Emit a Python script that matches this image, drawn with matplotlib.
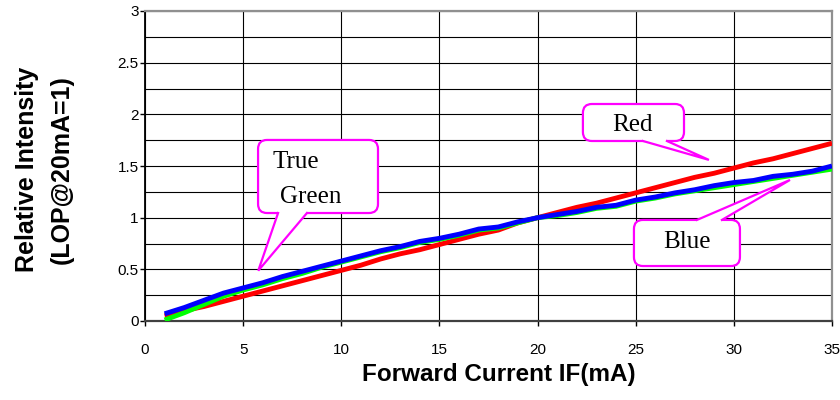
import numpy as np
import matplotlib
matplotlib.use("Agg")
import matplotlib.pyplot as plt
from matplotlib.patches import FancyBboxPatch, Polygon
from matplotlib.lines import Line2D

# forward current (mA) and relative intensity of each chip colour
current = [1, 2, 3, 4, 5, 6, 7, 8, 9, 10, 11, 12, 13, 14, 15, 16, 17, 18,
           19, 20, 21, 22, 23, 24, 25, 26, 27, 28, 29, 30, 31, 32, 33, 34, 35]
red = [0.05, 0.10, 0.14, 0.19, 0.24, 0.29, 0.34, 0.39, 0.44, 0.49, 0.54, 0.60,
       0.65, 0.69, 0.74, 0.79, 0.84, 0.88, 0.95, 1.00, 1.05, 1.10, 1.14, 1.19,
       1.24, 1.29, 1.34, 1.39, 1.43, 1.48, 1.53, 1.57, 1.62, 1.67, 1.72]
green = [0.01, 0.08, 0.16, 0.24, 0.30, 0.35, 0.41, 0.46, 0.52, 0.57, 0.62, 0.67,
         0.71, 0.76, 0.79, 0.83, 0.88, 0.90, 0.95, 1.00, 1.02, 1.05, 1.09, 1.11,
         1.16, 1.19, 1.23, 1.26, 1.29, 1.32, 1.35, 1.38, 1.41, 1.44, 1.47]
blue = [0.07, 0.13, 0.20, 0.27, 0.32, 0.37, 0.43, 0.48, 0.53, 0.58, 0.63, 0.68,
        0.72, 0.77, 0.80, 0.84, 0.89, 0.91, 0.96, 1.00, 1.03, 1.06, 1.10, 1.12,
        1.17, 1.20, 1.24, 1.27, 1.31, 1.34, 1.36, 1.40, 1.42, 1.45, 1.50]

xticks = [0, 5, 10, 15, 20, 25, 30, 35]
yticks = [0, 0.5, 1, 1.5, 2, 2.5, 3]

fig = plt.figure(figsize=(8.4, 4), dpi=100)
ax = fig.add_axes([145/840, 79/400, 687/840, 310/400])

ax.plot(current, red, color='#ff0000', lw=3.5, solid_capstyle='butt', zorder=3)
ax.plot(current, green, color='#00ff00', lw=3.5, solid_capstyle='butt', zorder=3)
ax.plot(current, blue, color='#0000ff', lw=3.5, solid_capstyle='butt', zorder=4)

ax.set_xlim(0, 35)
ax.set_ylim(0, 3)
ax.set_xticks(xticks)
ax.set_xticklabels([str(v) for v in xticks])
ax.set_yticks(yticks)
ax.set_yticklabels(['%g' % v for v in yticks])
ax.set_yticks(np.arange(0, 3.01, 0.25), minor=True)
ax.grid(True, which='major', color='black', lw=0.8)
ax.grid(True, which='minor', axis='y', color='black', lw=0.8)
ax.tick_params(axis='y', which='minor', length=0)
ax.tick_params(axis='both', which='major', direction='out', length=3.6,
               width=1, labelsize=11, color='black')
ax.tick_params(axis='x', pad=12)
ax.tick_params(axis='y', pad=1)
for lab in ax.get_xticklabels() + ax.get_yticklabels():
    lab.set_fontfamily('Liberation Sans')

ax.spines['left'].set_color('black')
ax.spines['left'].set_linewidth(1.3)
ax.spines['bottom'].set_color('#404040')
ax.spines['bottom'].set_linewidth(1.6)
for s in ['top', 'right']:
    ax.spines[s].set_color('#909090')
    ax.spines[s].set_linewidth(1.6)

ax.set_xlabel('Forward Current IF(mA)', fontsize=17.5, fontweight='bold',
              fontfamily='Liberation Sans')
ax.xaxis.set_label_coords(0.515, -0.135)
ax.set_ylabel('Relative Intensity\n(LOP@20mA=1)', fontsize=18, fontweight='bold',
              fontfamily='Liberation Sans', linespacing=1.6)
ax.yaxis.set_label_coords(-0.103, 0.49)

# callout boxes
sx = ax.transData.transform((1, 0))[0] - ax.transData.transform((0, 0))[0]
sy = ax.transData.transform((0, 1))[1] - ax.transData.transform((0, 0))[1]
mag = '#ff00ff'


def callout(x0, y0, x1, y1, b1, b2, edge_y, tip, inward):
    r = 9 / sx
    box = FancyBboxPatch((x0, y0), x1 - x0, y1 - y0,
                         boxstyle='round,pad=0,rounding_size=%f' % r,
                         mutation_aspect=sx / sy, fc='white', ec=mag, lw=1.6,
                         zorder=6, clip_on=False)
    ax.add_patch(box)
    yi = edge_y + inward
    fill = Polygon([(b1, yi), (b1, edge_y), tip, (b2, edge_y), (b2, yi)],
                   closed=True, fc='white', ec='none', zorder=7, clip_on=False)
    ax.add_patch(fill)
    ax.add_line(Line2D([b1, tip[0], b2], [edge_y, tip[1], edge_y], color=mag,
                       lw=1.6, zorder=8, solid_joinstyle='miter'))


callout(5.76, 1.045, 11.87, 1.752, 6.78, 8.25, 1.045, (5.77, 0.487), 0.04)
callout(22.31, 1.742, 27.46, 2.10, 25.37, 26.59, 1.742, (28.73, 1.559), 0.04)
callout(24.91, 0.532, 30.31, 0.978, 28.12, 29.39, 0.978, (32.86, 1.365), -0.04)

serif = 'Liberation Serif'
ax.text(6.52, 1.54, 'True', fontsize=18, fontfamily=serif, ha='left',
        va='center', zorder=9)
ax.text(6.88, 1.20, 'Green', fontsize=18, fontfamily=serif, ha='left',
        va='center', zorder=9)
ax.text(24.86, 1.90, 'Red', fontsize=18, fontfamily=serif, ha='center',
        va='center', zorder=9)
ax.text(27.61, 0.765, 'Blue', fontsize=18, fontfamily=serif, ha='center',
        va='center', zorder=9)

fig.savefig('out.png', dpi=100)
